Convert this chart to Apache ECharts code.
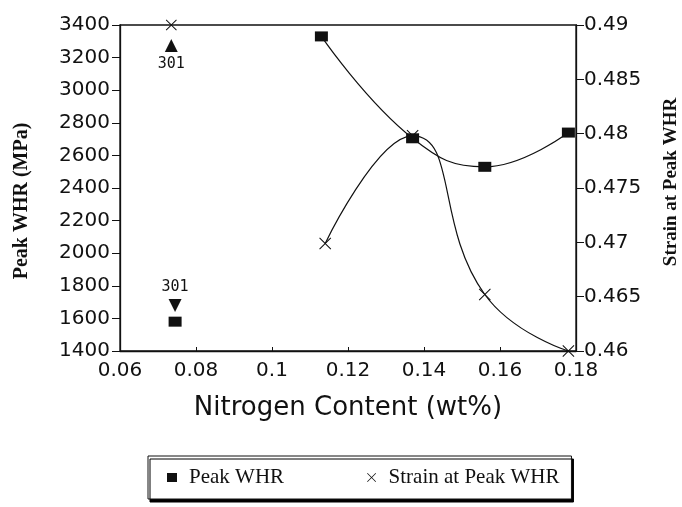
<!DOCTYPE html>
<html><head><meta charset="utf-8">
<script src="https://cdn.jsdelivr.net/npm/echarts@6/dist/echarts.min.js"></script>
<style>html,body{margin:0;padding:0;background:#fff}#c{width:682px;height:507px}</style>
</head><body><div id="c"></div>
<script>
// Nitrogen content (wt%) for the alloy series
const nitrogen = [0.113, 0.137, 0.156, 0.178];
const nitrogenStrain = [0.114, 0.137, 0.156, 0.178];
const peakWHR = [3330, 2705, 2530, 2740];
const strainAtPeak = [0.4699, 0.4798, 0.4652, 0.4600];
// Reference alloy 301
const ref301N = [0.0745, 0.0735];
const ref301WHR = 1580;
const ref301Strain = 0.49;
const xTicks = {min: 0.06, max: 0.18, interval: 0.02};
const yLeftTicks = {min: 1400, max: 3400, interval: 200};
const yRightTicks = {min: 0.46, max: 0.49, interval: 0.005};

const crossPath = 'path://M0,0.6L0.6,0L5,4.4L9.4,0L10,0.6L5.6,5L10,9.4L9.4,10L5,5.6L0.6,10L0,9.4L4.4,5Z';
const ink = '#111';
const labelFont = {color: ink, fontFamily: 'DejaVu Sans', fontSize: 20};
const refLabel = {
  a: {fontFamily: 'DejaVu Sans Mono', fontSize: 15, color: ink, lineHeight: 20},
  b: {fontFamily: 'DejaVu Sans', fontSize: 17, color: ink, lineHeight: 18},
  g: {fontSize: 4, lineHeight: 4}
};

const chart = echarts.init(document.getElementById('c'));
chart.setOption({
  animation: false,
  backgroundColor: '#fff',
  grid: {left: 120, right: 106, top: 25, bottom: 156, show: true, borderColor: ink, borderWidth: 1.3,
         containLabel: false, outerBoundsMode: 'none'},
  legend: {
    data: [{name: 'Peak WHR', icon: 'rect'}, {name: 'Strain at Peak WHR', icon: crossPath}],
    left: 148, top: 456,
    padding: [11, 12, 11, 19], itemGap: 83,
    itemWidth: 10, itemHeight: 9,
    backgroundColor: '#fff', borderColor: ink, borderWidth: 1,
    shadowColor: '#000', shadowOffsetX: 2, shadowOffsetY: 3, shadowBlur: 0,
    textStyle: {fontFamily: 'Liberation Serif', fontSize: 21, color: ink, padding: [0, 0, 0, 7]},
    selectedMode: false
  },
  xAxis: {
    type: 'value', min: xTicks.min, max: xTicks.max, interval: xTicks.interval,
    name: 'Nitrogen Content (wt%)', nameLocation: 'middle', nameGap: 44,
    nameTextStyle: {fontFamily: 'DejaVu Sans', fontSize: 26, color: ink},
    axisLine: {lineStyle: {color: ink, width: 1.3}},
    axisTick: {inside: true, length: 4, lineStyle: {color: ink}},
    axisLabel: Object.assign({margin: 10, formatter: v => String(+v.toFixed(2))}, labelFont),
    splitLine: {show: false}
  },
  yAxis: [{
    type: 'value', position: 'left', min: yLeftTicks.min, max: yLeftTicks.max, interval: yLeftTicks.interval,
    name: 'Peak WHR (MPa)', nameLocation: 'middle', nameGap: 88, nameRotate: 90,
    nameTextStyle: {fontFamily: 'Liberation Serif', fontWeight: 'bold', fontSize: 20, color: ink, padding: [0, 0, 0, -26]},
    axisLine: {show: true, lineStyle: {color: ink, width: 1.3}},
    axisTick: {show: true, length: 8, lineStyle: {color: ink}},
    axisLabel: Object.assign({margin: 10, formatter: v => String(Math.round(v))}, labelFont),
    splitLine: {show: false}
  }, {
    type: 'value', position: 'right', min: yRightTicks.min, max: yRightTicks.max, interval: yRightTicks.interval,
    name: 'Strain at Peak WHR', nameLocation: 'middle', nameGap: 86, nameRotate: 90,
    nameTextStyle: {fontFamily: 'Liberation Serif', fontWeight: 'bold', fontSize: 19, color: ink, padding: [0, 0, 0, 12]},
    axisLine: {show: true, lineStyle: {color: ink, width: 1.3}},
    axisTick: {show: true, length: 8, lineStyle: {color: ink}},
    axisLabel: Object.assign({margin: 8, formatter: v => String(+v.toFixed(3))}, labelFont),
    splitLine: {show: false}
  }],
  series: [{
    name: 'Peak WHR', type: 'line', yAxisIndex: 0, smooth: 0.45,
    data: nitrogen.map((n, i) => [n, peakWHR[i]]),
    symbol: 'rect', symbolSize: [13, 10], showAllSymbol: true,
    itemStyle: {color: ink, opacity: 1}, lineStyle: {color: ink, width: 1.2}, z: 3
  }, {
    name: 'Strain at Peak WHR', type: 'line', yAxisIndex: 1, smooth: 0.5,
    data: nitrogenStrain.map((n, i) => [n, strainAtPeak[i]]),
    symbol: crossPath, symbolSize: 12, showAllSymbol: true,
    itemStyle: {color: ink, opacity: 1}, lineStyle: {color: ink, width: 1.2}, z: 3
  }, {
    name: 'Peak WHR', type: 'scatter', yAxisIndex: 0,
    data: [[ref301N[0], ref301WHR]],
    symbol: 'rect', symbolSize: [13, 10], itemStyle: {color: ink, opacity: 1},
    label: {show: true, position: 'top', distance: 2, formatter: '{a|301}\n{b|▼}', rich: refLabel, align: 'center'}
  }, {
    name: 'Strain at Peak WHR', type: 'scatter', yAxisIndex: 1,
    data: [[ref301N[1], ref301Strain]],
    symbol: crossPath, symbolSize: 11, itemStyle: {color: ink, opacity: 1},
    label: {show: true, position: 'bottom', distance: 6, formatter: '{b|▲}\n{a|301}', rich: refLabel, align: 'center'}
  }]
});
</script></body></html>
